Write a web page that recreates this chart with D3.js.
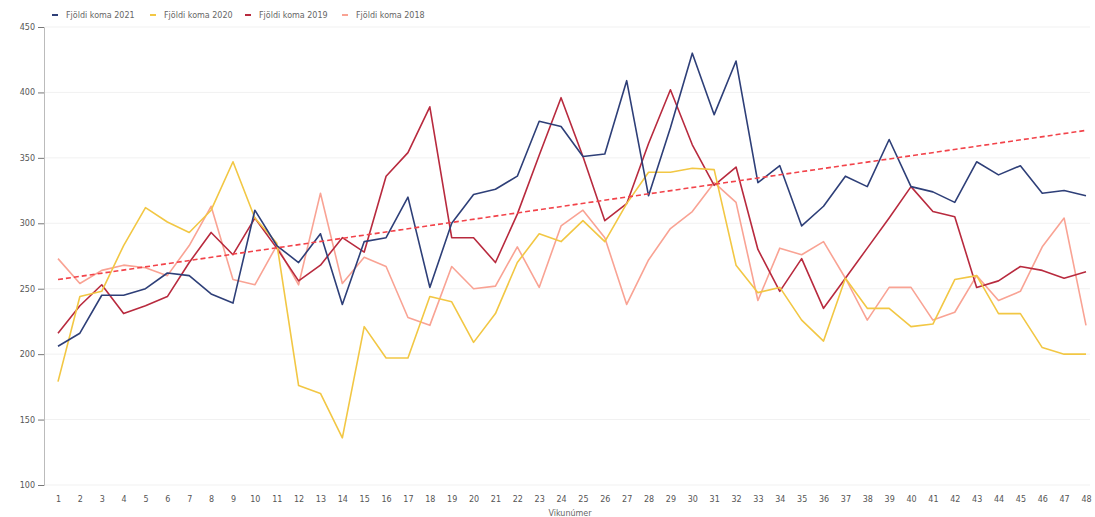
<!DOCTYPE html>
<html>
<head>
<meta charset="utf-8">
<script src="https://cdn.jsdelivr.net/npm/d3@7"></script>
<style>
  body { margin: 0; background: #fff; }
  .tick text { font-family: "DejaVu Sans", sans-serif; font-size: 8px; fill: #555; }
  .legend text { font-family: "DejaVu Sans", sans-serif; font-size: 8px; fill: #666; }
</style>
</head>
<body>
<div id="viz"></div>
<script>
var weeks = d3.range(1, 49);
var yTicks = [100, 150, 200, 250, 300, 350, 400, 450];

var koma2021 = [206, 216, 245, 245, 250, 262, 260, 246, 239, 310, 283, 270, 292, 238, 286, 289,
  320, 251, 300, 322, 326, 336, 378, 374, 351, 353, 409, 321, 373, 430, 383, 424,
  331, 344, 298, 313, 336, 328, 364, 328, 324, 316, 347, 337, 344, 323, 325, 321];
var koma2020 = [179, 244, 248, 283, 312, 301, 293, 310, 347, 304, 285, 176, 170, 136, 221, 197,
  197, 244, 240, 209, 231, 270, 292, 286, 302, 286, 315, 339, 339, 342, 341, 268,
  247, 251, 226, 210, 258, 235, 235, 221, 223, 257, 260, 231, 231, 205, 200, 200];
var koma2019 = [216, 237, 253, 231, 237, 244, 270, 293, 276, 304, 281, 256, 268, 289, 278, 336,
  354, 389, 289, 289, 270, 307, 352, 396, 351, 302, 315, 361, 402, 360, 329, 343,
  280, 248, 273, 235, 258, 281, 304, 328, 309, 305, 251, 256, 267, 264, 258, 263];
var koma2018 = [273, 254, 264, 268, 266, 260, 283, 313, 257, 253, 283, 253, 323, 254, 274, 267,
  228, 222, 267, 250, 252, 282, 251, 298, 310, 289, 238, 272, 296, 309, 331, 316,
  241, 281, 276, 286, 258, 226, 251, 251, 226, 232, 260, 241, 248, 282, 304, 222];
// trend line endpoints (week 1 and week 48)
var trendEnds = [257, 371];

var seriesNames = ["Fjöldi koma 2021", "Fjöldi koma 2020", "Fjöldi koma 2019", "Fjöldi koma 2018"];
var seriesValues = [koma2021, koma2020, koma2019, koma2018];
var colors = ["#2e3f78", "#f2c744", "#b82a3e", "#f9a394"];

var W = 1095, H = 517;
var svg = d3.select("#viz").append("svg")
  .attr("width", W)
  .attr("height", H);

var x = d3.scalePoint().domain(weeks).range([58, 1086]);
var y = d3.scaleLinear().domain([100, 450]).range([485, 27]);

// grid lines
svg.append("g")
  .selectAll("line")
  .data(yTicks)
  .enter().append("line")
  .attr("x1", 45).attr("x2", 1090)
  .attr("y1", function (d) { return y(d); })
  .attr("y2", function (d) { return y(d); })
  .attr("stroke", "#f1f1f1")
  .attr("stroke-width", 1);

// y axis
var yAxis = svg.append("g")
  .attr("transform", "translate(44,0)")
  .call(d3.axisLeft(y).tickValues(yTicks).tickSize(6).tickPadding(3));
yAxis.select(".domain").attr("stroke", "#bbb");
yAxis.selectAll(".tick line").attr("stroke", "#777");

// x axis (labels only)
var xAxis = svg.append("g")
  .attr("transform", "translate(0,492)")
  .call(d3.axisBottom(x).tickSize(0).tickPadding(4));
xAxis.select(".domain").remove();

svg.append("text")
  .attr("x", 570)
  .attr("y", 516)
  .attr("text-anchor", "middle")
  .style("font-family", "DejaVu Sans, sans-serif")
  .style("font-size", "8px")
  .style("fill", "#666")
  .text("Vikunúmer");

var line = d3.line()
  .x(function (d, i) { return x(weeks[i]); })
  .y(function (d) { return y(d); });

// draw in reverse so 2021 is on top
for (var s = seriesValues.length - 1; s >= 0; s--) {
  svg.append("path")
    .datum(seriesValues[s])
    .attr("fill", "none")
    .attr("stroke", colors[s])
    .attr("stroke-width", 1.6)
    .attr("stroke-linejoin", "round")
    .attr("d", line);
}

// trend line
svg.append("line")
  .attr("x1", x(weeks[0]))
  .attr("x2", x(weeks[weeks.length - 1]))
  .attr("y1", y(trendEnds[0]))
  .attr("y2", y(trendEnds[1]))
  .attr("stroke", "#f2434a")
  .attr("stroke-width", 1.6)
  .attr("stroke-dasharray", "5,3");

// legend
var legendX = [52, 150, 245, 342];
var legend = svg.selectAll(".legend")
  .data(seriesNames)
  .enter().append("g")
  .attr("class", "legend")
  .attr("transform", function (d, i) { return "translate(" + legendX[i] + ",15)"; });

legend.append("line")
  .attr("x1", 0).attr("x2", 6)
  .attr("y1", 0).attr("y2", 0)
  .attr("stroke", function (d, i) { return colors[i]; })
  .attr("stroke-width", 2);

legend.append("text")
  .attr("x", 14)
  .attr("y", 0)
  .attr("dy", ".35em")
  .text(function (d) { return d; });
</script>
</body>
</html>
